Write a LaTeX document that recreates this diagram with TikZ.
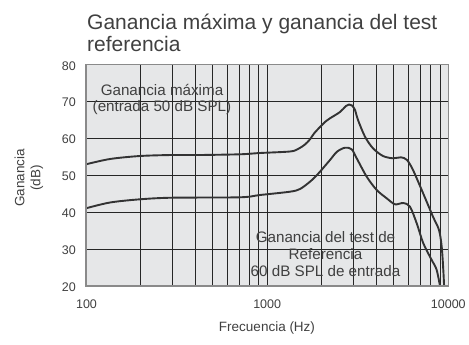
\documentclass[tikz,border=0pt]{standalone}
\usepackage{fontspec}
\setmainfont{Liberation Sans}
\definecolor{plotbg}{HTML}{E6E7E8}
\definecolor{txt}{HTML}{404040}
\definecolor{curve}{HTML}{333333}
\definecolor{frame}{HTML}{8A8A8A}
\begin{document}
\begin{tikzpicture}[x=1pt,y=-1pt,
  gridline/.style={draw=black!85, line width=0.75pt},
  curveline/.style={draw=curve, line width=1.9pt, line join=round, line cap=round},
  ticklab/.style={text=txt, font=\fontsize{12.5}{14}\selectfont, inner sep=0pt},
  inlab/.style={text=txt, font=\fontsize{15.2}{16.8}\selectfont, align=center, inner sep=0pt},
  titlelab/.style={text=txt, font=\fontsize{21}{22}\selectfont, inner sep=0pt, anchor=base west},
  axlab/.style={text=txt, font=\fontsize{13.5}{16}\selectfont, align=center, inner sep=0pt}]
\useasboundingbox (0,0) rectangle (469,345);
% plot geometry
\def\xl{86}\def\xr{448.3}\def\yt{64.5}\def\yb{286}
\def\dec{181.15}
\fill[plotbg] (\xl,\yt) rectangle (\xr,\yb);
% horizontal grid
\foreach \d in {30,40,50,60,70} {
  \draw[gridline] (\xl,{\yb-(\d-20)*3.6917}) -- (\xr,{\yb-(\d-20)*3.6917});
}
% vertical grid
\foreach \f in {2,3,4,5,6,7,8,9,10,20,30,40,50,60,70,80,90} {
  \draw[gridline] ({\xl+\dec*log10(\f)},\yt) -- ({\xl+\dec*log10(\f)},\yb);
}
% curves
\begin{scope}
\clip (\xl,\yt) rectangle (\xr,\yb);
\draw[curveline] plot[smooth, tension=0.5] coordinates {
 (86,164.3) (110,159) (140,156) (172,155) (200,155) (240,154.3) (260,153)
 (290,151.5) (298,149) (305,144.5) (310,139.3) (314,133.5) (320,127) (325,122)
 (330,118.3) (340,112) (346,106) (349,104.5) (352,105.5) (355,110) (358,120)
 (365,136.7) (373,148.3) (383,156) (393,158.3) (401,157.3) (407,160) (413,170)
 (423,193) (433,216.7) (439,230) (441.7,246.7) (443.3,270) (444.3,290)};
\draw[curveline] plot[smooth, tension=0.5] coordinates {
 (86,208.3) (110,202.5) (140,199.3) (172,197.7) (240,197.3) (260,195)
 (290,191.7) (300,189) (310,181.7) (317,175) (320,171.7) (330,160) (337,151.7)
 (345,147.7) (351.7,149.3) (356.7,158.3) (366.7,176.7) (376.7,190) (386.7,198.3)
 (395,204.3) (403.3,203) (410,206.7) (416.7,223.3) (423.3,243.3) (431.7,260)
 (436.7,270) (440.7,290)};
\end{scope}
% frame
\draw[draw=frame, line width=1.3pt] (\xl,\yt) rectangle (\xr,\yb);
% title
\node[titlelab] (t1) at (87,30) {Ganancia máxima y ganancia del test};
\node[titlelab] (t2) at (87,52) {referencia};
% y tick labels
\node[ticklab, anchor=east] (y80) at (76,66) {80};
\node[ticklab, anchor=east] (y70) at (76,102.5) {70};
\node[ticklab, anchor=east] (y60) at (76,139.3) {60};
\node[ticklab, anchor=east] (y50) at (76,176.2) {50};
\node[ticklab, anchor=east] (y40) at (76,213) {40};
\node[ticklab, anchor=east] (y30) at (76,250) {30};
\node[ticklab, anchor=east] (y20) at (76,287) {20};
% x tick labels
\node[ticklab] (x100) at (86.5,304) {100};
\node[ticklab] (x1000) at (267.2,304) {1000};
\node[ticklab] (x10000) at (448.3,304) {10000};
% axis titles
\node[axlab] (xt) at (267,328) {Frecuencia (Hz)};
\node[axlab, rotate=90] (ytl) at (29,178) {Ganancia\\(dB)};
% in-plot labels
\node[inlab] (l1) at (162,99.5) {Ganancia máxima\\(entrada 50 dB SPL)};
\node[inlab] (l2) at (325.5,254) {Ganancia del test de\\Referencia\\60 dB SPL de entrada};
\end{tikzpicture}
\end{document}
